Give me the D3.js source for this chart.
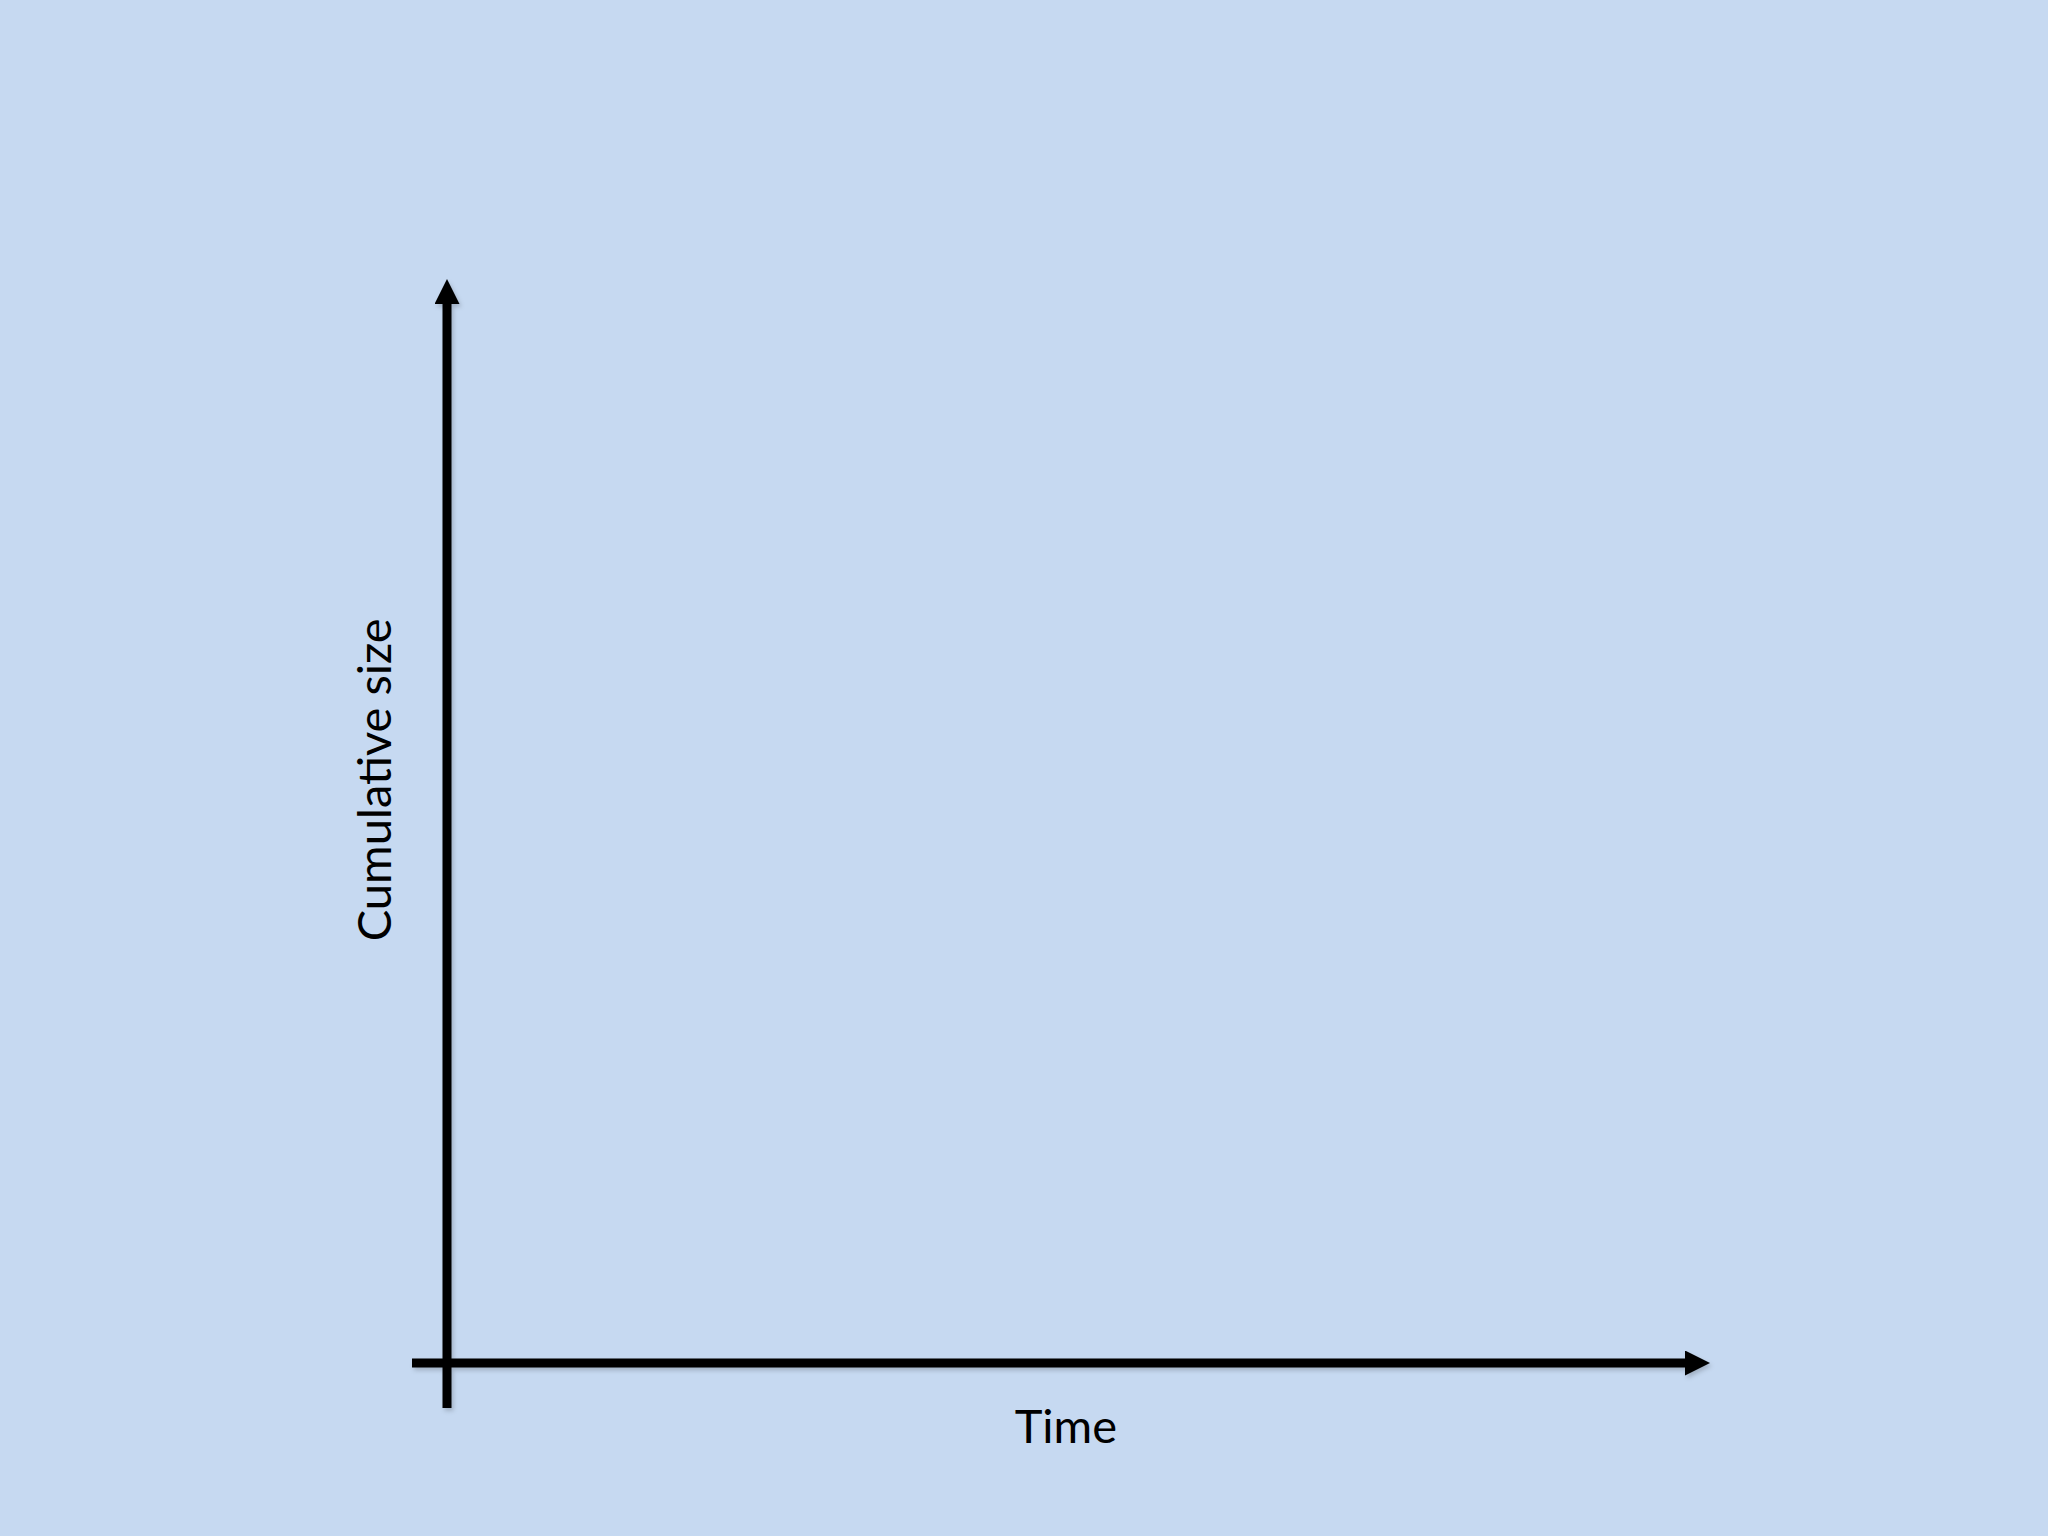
<!DOCTYPE html>
<html>
<head>
<meta charset="utf-8">
<script src="https://cdn.jsdelivr.net/npm/d3@7"></script>
<style>
  html, body { margin: 0; padding: 0; background: #c6d9f1; }
  svg { display: block; }
</style>
</head>
<body>
<svg id="chart"></svg>
<script>
// Axis labels (the chart is an empty schematic: no series, no ticks)
var xLabel = 'Time';
var yLabel = 'Cumulative size';
var xDomain = [0, 1];
var yDomain = [0, 1];

var svg = d3.select('#chart')
    .attr('width', 2048)
    .attr('height', 1536);

var svgWidth = +svg.attr('width');
var svgHeight = +svg.attr('height');

// background
svg.append('rect')
    .attr('width', svgWidth)
    .attr('height', svgHeight)
    .attr('fill', '#c6d9f1');

// origin at (447, 1363), arrow tips at x=1710 and y=279
var padding = {t: 279, r: 338, b: 173, l: 447};
var chartWidth = svgWidth - padding.l - padding.r;
var chartHeight = svgHeight - padding.t - padding.b;

var xScale = d3.scaleLinear().domain(xDomain).range([0, chartWidth]);
var yScale = d3.scaleLinear().domain(yDomain).range([chartHeight, 0]);

var defs = svg.append('defs');

var shadow = defs.append('filter')
    .attr('id', 'shadow')
    .attr('x', '-20%').attr('y', '-20%')
    .attr('width', '140%').attr('height', '140%');
shadow.append('feDropShadow')
    .attr('dx', 2).attr('dy', 3)
    .attr('stdDeviation', 2)
    .attr('flood-color', '#000')
    .attr('flood-opacity', 0.18);

var headLen = 25;
defs.append('marker')
    .attr('id', 'arrow')
    .attr('markerUnits', 'userSpaceOnUse')
    .attr('viewBox', '0 0 25 25')
    .attr('refX', 0)
    .attr('refY', 12.5)
    .attr('markerWidth', headLen)
    .attr('markerHeight', 25)
    .attr('orient', 'auto')
    .append('path')
    .attr('d', 'M0,0L25,12.5L0,25Z')
    .attr('fill', '#000');

var chartG = svg.append('g')
    .attr('transform', 'translate(' + [padding.l, padding.t] + ')')
    .attr('filter', 'url(#shadow)');

// x axis: starts a bit left of the origin, arrow at the right end
chartG.append('line')
    .attr('x1', xScale(xDomain[0]) - 35)
    .attr('x2', xScale(xDomain[1]) - headLen)
    .attr('y1', yScale(yDomain[0]))
    .attr('y2', yScale(yDomain[0]))
    .attr('stroke', '#000')
    .attr('stroke-width', 9)
    .attr('marker-end', 'url(#arrow)');

// y axis: runs a bit below the origin, arrow at the top
chartG.append('line')
    .attr('x1', xScale(xDomain[0]))
    .attr('x2', xScale(xDomain[0]))
    .attr('y1', yScale(yDomain[0]) + 45)
    .attr('y2', yScale(yDomain[1]) + headLen)
    .attr('stroke', '#000')
    .attr('stroke-width', 9)
    .attr('marker-end', 'url(#arrow)');

// labels
var labelFont = 'Lato, "Open Sans", sans-serif';

svg.append('text')
    .attr('x', padding.l + xScale(0.49))
    .attr('y', padding.t + chartHeight + 80)
    .attr('text-anchor', 'middle')
    .style('font-family', labelFont)
    .style('font-size', '47px')
    .attr('fill', '#000')
    .text(xLabel);

svg.append('text')
    .attr('transform', 'translate(' + [padding.l - 56, padding.t + yScale(0.538)] + ') rotate(-90)')
    .attr('text-anchor', 'middle')
    .style('font-family', labelFont)
    .style('font-size', '47px')
    .attr('fill', '#000')
    .text(yLabel);
</script>
</body>
</html>
